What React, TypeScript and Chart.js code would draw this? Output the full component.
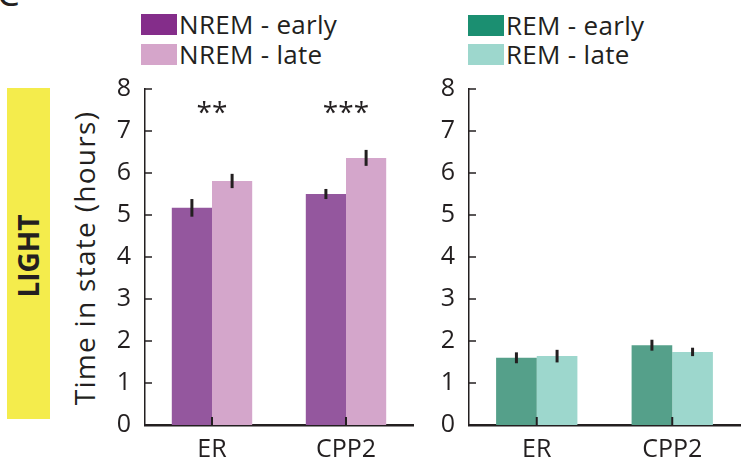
import React, { useEffect, useRef } from "react";
import { Chart, registerables } from "chart.js";

Chart.register(...registerables);

// ---- data ----
const categories = ["ER", "CPP2"];

const nremEarly = [5.17, 5.5];
const nremEarlyErr = [0.21, 0.12];
const nremLate = [5.81, 6.36];
const nremLateErr = [0.17, 0.19];

const remEarly = [1.6, 1.9];
const remEarlyErr = [0.13, 0.13];
const remLate = [1.64, 1.74];
const remLateErr = [0.15, 0.1];

const nremSignificance = ["**", "***"];
const remSignificance = ["", ""];

const yMin = 0;
const yMax = 8;
const yStep = 1;
const sigLevel = 7.5;

// ---- styles ----
const INK = "#231f20";
const FONT = "'Open Sans', 'DejaVu Sans', sans-serif";

const COLORS = {
  nremEarlyBar: "#94579e",
  nremLateBar: "#d4a6cb",
  remEarlyBar: "#55a08a",
  remLateBar: "#9dd7cd",
  nremEarlyKey: "#842d8a",
  nremLateKey: "#d5a5ca",
  remEarlyKey: "#1b8f71",
  remLateKey: "#9dd7cd",
};

// error bars drawn on top of each bar from the y scale
const errorBarPlugin = {
  id: "errorBars",
  afterDatasetsDraw(chart: any) {
    const { ctx } = chart;
    const yScale = chart.scales.y;
    ctx.save();
    ctx.strokeStyle = INK;
    ctx.lineWidth = 3;
    ctx.lineCap = "butt";
    chart.data.datasets.forEach((ds: any, i: number) => {
      const meta = chart.getDatasetMeta(i);
      meta.data.forEach((bar: any, j: number) => {
        const v = ds.data[j];
        const e = ds.errors[j];
        ctx.beginPath();
        ctx.moveTo(bar.x, yScale.getPixelForValue(v - e));
        ctx.lineTo(bar.x, yScale.getPixelForValue(v + e));
        ctx.stroke();
      });
    });
    ctx.restore();
  },
};

// inward tick marks on both axes
const innerTicksPlugin = {
  id: "innerTicks",
  afterDraw(chart: any) {
    const { ctx, chartArea } = chart;
    const x = chart.scales.x;
    const y = chart.scales.y;
    ctx.save();
    ctx.strokeStyle = INK;
    ctx.lineWidth = 1.5;
    y.ticks.forEach((t: any) => {
      const py = y.getPixelForValue(t.value);
      ctx.beginPath();
      ctx.moveTo(chartArea.left, py);
      ctx.lineTo(chartArea.left + 7, py);
      ctx.stroke();
    });
    ctx.lineWidth = 2;
    categories.forEach((_, i) => {
      const px = x.getPixelForValue(i);
      ctx.beginPath();
      ctx.moveTo(px, chartArea.bottom);
      ctx.lineTo(px, chartArea.bottom - 8);
      ctx.stroke();
    });
    ctx.restore();
  },
};

// significance stars over each category
const significancePlugin = {
  id: "significance",
  afterDraw(chart: any, _args: any, opts: any) {
    const labels: string[] = opts.labels || [];
    const { ctx } = chart;
    ctx.save();
    ctx.fillStyle = INK;
    ctx.font = `28px ${FONT}`;
    ctx.textAlign = "center";
    ctx.textBaseline = "middle";
    labels.forEach((s, i) => {
      if (!s) return;
      ctx.fillText(
        s,
        chart.scales.x.getPixelForValue(i),
        chart.scales.y.getPixelForValue(opts.level) + 4
      );
    });
    ctx.restore();
  },
};

type PanelProps = {
  left: number;
  width: number;
  axisWidth: number;
  padRight: number;
  datasets: any[];
  significance: string[];
};

function Panel({ left, width, axisWidth, padRight, datasets, significance }: PanelProps) {
  const ref = useRef<HTMLCanvasElement>(null);
  const height = 404;
  useEffect(() => {
    if (!ref.current) return;
    const chart = new Chart(ref.current, {
      type: "bar",
      data: { labels: categories, datasets },
      plugins: [errorBarPlugin, innerTicksPlugin, significancePlugin],
      options: {
        responsive: false,
        animation: false,
        devicePixelRatio: 1,
        layout: { padding: { top: 29, right: padRight, bottom: 0, left: 0 } },
        datasets: { bar: { categoryPercentage: 0.6, barPercentage: 1.0 } },
        plugins: {
          legend: { display: false },
          tooltip: { enabled: false },
          significance: { labels: significance, level: sigLevel },
        } as any,
        scales: {
          x: {
            grid: { display: false },
            border: { display: true, color: INK, width: 2.5 },
            ticks: { color: INK, font: { family: FONT, size: 25 }, padding: 2 },
            afterFit: (s: any) => {
              s.height = 39;
            },
          },
          y: {
            min: yMin,
            max: yMax,
            grid: { display: false },
            border: { display: true, color: INK, width: 1.5 },
            ticks: {
              stepSize: yStep,
              color: INK,
              font: { family: FONT, size: 25 },
              padding: 6,
            },
            afterFit: (s: any) => {
              s.width = axisWidth;
            },
          },
        },
      },
    });
    return () => chart.destroy();
  }, []);
  return (
    <canvas
      ref={ref}
      width={width}
      height={height}
      style={{ position: "absolute", left, top: 60, width, height, display: "block" }}
    />
  );
}

function LegendRow({ left, top, color, text }: { left: number; top: number; color: string; text: string }) {
  return (
    <>
      <div style={{ position: "absolute", left, top, width: 36, height: 21, background: color }} />
      <div
        style={{
          position: "absolute",
          left: left + 38,
          top: top - 4,
          height: 29,
          lineHeight: "29px",
          fontFamily: FONT,
          fontSize: 26,
          letterSpacing: 0.3,
          color: INK,
          whiteSpace: "nowrap",
        }}
      >
        {text}
      </div>
    </>
  );
}

export default function App() {
  const nremSets = [
    { label: "NREM - early", data: nremEarly, errors: nremEarlyErr, backgroundColor: COLORS.nremEarlyBar, borderWidth: 0 },
    { label: "NREM - late", data: nremLate, errors: nremLateErr, backgroundColor: COLORS.nremLateBar, borderWidth: 0 },
  ];
  const remSets = [
    { label: "REM - early", data: remEarly, errors: remEarlyErr, backgroundColor: COLORS.remEarlyBar, borderWidth: 0 },
    { label: "REM - late", data: remLate, errors: remLateErr, backgroundColor: COLORS.remLateBar, borderWidth: 0 },
  ];

  return (
    <div
      style={{
        position: "fixed",
        left: 0,
        top: 0,
        width: 741,
        height: 464,
        background: "#fff",
        overflow: "hidden",
        fontFamily: FONT,
      }}
    >
      {/* panel letter */}
      <div
        style={{
          position: "absolute",
          left: -3,
          top: -27,
          fontSize: 36,
          lineHeight: "40px",
          color: INK,
        }}
      >
        C
      </div>

      {/* condition band */}
      <div
        style={{
          position: "absolute",
          left: 7,
          top: 88,
          width: 43,
          height: 331,
          background: "#f4ec4c",
        }}
      />
      <div
        style={{
          position: "absolute",
          left: 28,
          top: 256,
          transform: "translate(-50%, -50%) rotate(-90deg)",
          fontWeight: 700,
          fontSize: 28,
          color: INK,
          whiteSpace: "nowrap",
        }}
      >
        LIGHT
      </div>

      {/* y-axis title */}
      <div
        style={{
          position: "absolute",
          left: 84,
          top: 258,
          transform: "translate(-50%, -50%) rotate(-90deg)",
          fontSize: 28,
          letterSpacing: 1.3,
          color: INK,
          whiteSpace: "nowrap",
        }}
      >
        Time in state (hours)
      </div>

      <LegendRow left={141} top={14} color={COLORS.nremEarlyKey} text="NREM - early" />
      <LegendRow left={141} top={44} color={COLORS.nremLateKey} text="NREM - late" />
      <LegendRow left={468} top={15} color={COLORS.remEarlyKey} text="REM - early" />
      <LegendRow left={468} top={44} color={COLORS.remLateKey} text="REM - late" />

      <Panel left={100} width={320} axisWidth={45} padRight={7} datasets={nremSets} significance={nremSignificance} />
      <Panel left={420} width={321} axisWidth={49} padRight={1} datasets={remSets} significance={remSignificance} />
    </div>
  );
}
